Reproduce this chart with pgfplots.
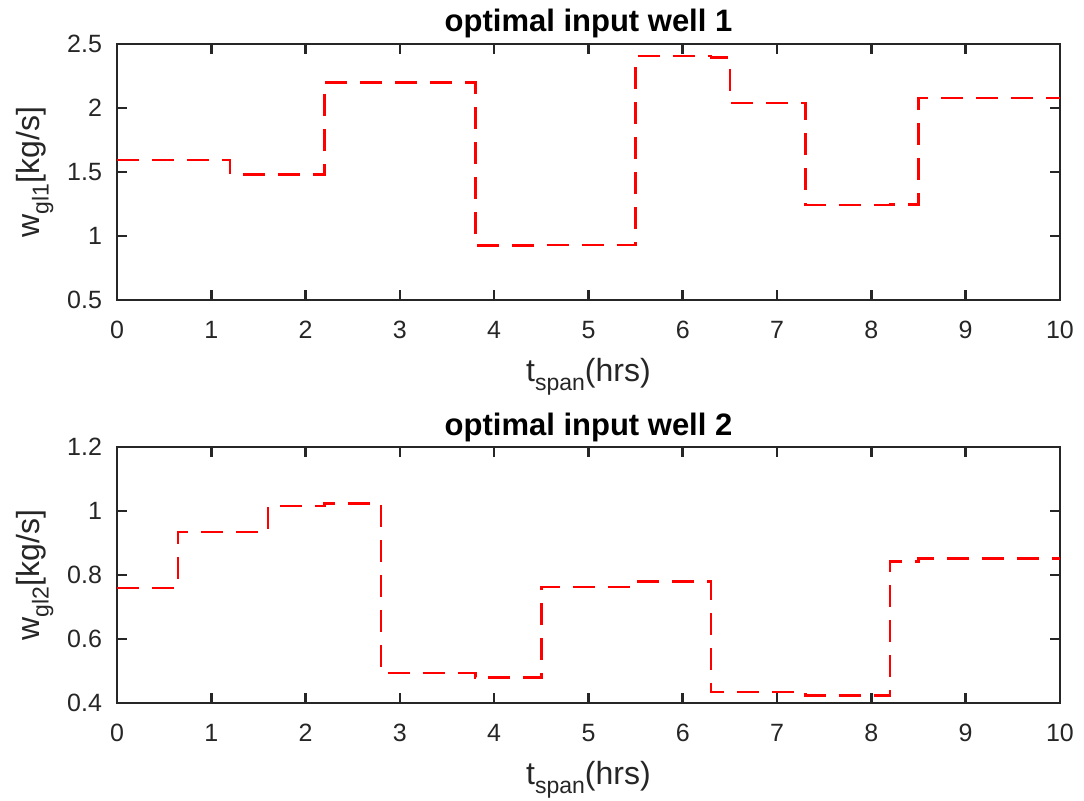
\documentclass[border=0pt]{standalone}
\usepackage{fontspec}
\setmainfont{Liberation Sans}
\usepackage{pgfplots}
\pgfplotsset{compat=1.18}
\definecolor{axgray}{HTML}{262626}

\pgfplotsset{
  every axis title shift=0pt,
  wellaxis/.style={
    scale only axis,
    width=471.5pt, height=128pt,
    xmin=0, xmax=10,
    xtick={0,1,...,10},
    axis line style={axgray, line width=1.3pt},
    every tick/.style={axgray, line width=1.3pt},
    major tick length=5pt,
    tick align=inside,
    tick pos=both,
    /pgf/number format/assume math mode=true,
    tick label style={font=\fontsize{12.5}{14}\selectfont, text=axgray},
    xticklabel style={yshift=-7pt},
    yticklabel style={xshift=-4pt},
    title style={at={(axis description cs:0.5,1)}, anchor=base, yshift=6pt,
                 font=\fontsize{15.5}{17}\selectfont\bfseries},
    xlabel style={at={(axis description cs:0.5,0)}, anchor=base, yshift=-41pt,
                  font=\fontsize{16}{18}\selectfont, text=axgray},
    ylabel style={at={(axis description cs:-0.082,0.5)}, anchor=base,
                  font=\fontsize{16}{18}\selectfont, text=axgray},
    xlabel={t{\fontsize{11.5}{13}\selectfont\raisebox{-4.5pt}{span}}(hrs)},
  },
  wellline/.style={const plot, red, line width=1.2pt,
                   dash pattern=on 11pt off 6.5pt},
}

\begin{document}
\begin{tikzpicture}
\path[use as bounding box] (-58.5pt,-250.5pt) rectangle (483.5pt,150pt);

\begin{axis}[wellaxis, at={(0pt,0pt)}, anchor=south west,
  ymin=0.5, ymax=2.5, ytick={0.5,1,1.5,2,2.5},
  title={optimal input well 1},
  ylabel={w{\fontsize{11.5}{13}\selectfont\raisebox{-4.5pt}{gl1}}[kg/s]}]
\addplot[wellline] coordinates {
  (0,1.593) (1.2,1.48) (2.2,2.2) (3.8,0.925) (4.5,0.93) (5.5,2.405)
  (6.3,2.395) (6.5,2.04) (7.3,1.24) (8.2,1.245) (8.5,2.08) (10,2.08)
};
\end{axis}

\begin{axis}[wellaxis, at={(0pt,-201.5pt)}, anchor=south west,
  ymin=0.4, ymax=1.2, ytick={0.4,0.6,0.8,1,1.2},
  title={optimal input well 2},
  ylabel={w{\fontsize{11.5}{13}\selectfont\raisebox{-4.5pt}{gl2}}[kg/s]}]
\addplot[wellline] coordinates {
  (0,0.76) (0.65,0.935) (1.6,1.016) (2.2,1.024) (2.8,0.493) (3.8,0.48)
  (4.5,0.763) (5.5,0.78) (6.3,0.435) (7.3,0.424) (8.2,0.842) (8.5,0.851)
  (10,0.851)
};
\end{axis}
\end{tikzpicture}
\end{document}
